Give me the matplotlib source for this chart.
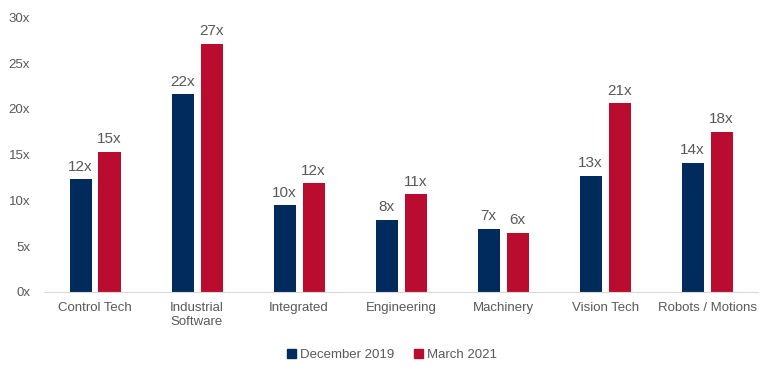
import numpy as np
import matplotlib

matplotlib.use("Agg")
from matplotlib import pyplot as plt
from matplotlib.patches import Patch

plt.rcParams["font.family"] = ["Liberation Sans", "DejaVu Sans"]

CATEGORIES = ["Control Tech", "Industrial\nSoftware", "Integrated", "Engineering",
              "Machinery", "Vision Tech", "Robots / Motions"]
DEC_2019 = [12.3, 21.6, 9.5, 7.9, 6.9, 12.7, 14.1]
MAR_2021 = [15.3, 27.1, 11.9, 10.7, 6.45, 20.6, 17.5]
LABELS_DEC = ["12x", "22x", "10x", "8x", "7x", "13x", "14x"]
LABELS_MAR = ["15x", "27x", "12x", "11x", "6x", "21x", "18x"]
SERIES_NAMES = ["December 2019", "March 2021"]
Y_TICKS = [0, 5, 10, 15, 20, 25, 30]

NAVY = "#002B5C"
RED = "#BA0C2F"
TEXT = "#595959"

fig = plt.figure(figsize=(7.76, 3.80), dpi=100)
ax = fig.add_axes([0.0567, 0.2316, 0.9203, 0.7224])

x = np.arange(len(CATEGORIES))
width = 0.216
offset = 0.142

bars_dec = ax.bar(x - offset, DEC_2019, width, color=NAVY)
bars_mar = ax.bar(x + offset, MAR_2021, width, color=RED)

for bars, values, labels in ((bars_dec, DEC_2019, LABELS_DEC),
                             (bars_mar, MAR_2021, LABELS_MAR)):
    for bar, v, lab in zip(bars, values, labels):
        ax.annotate(lab, (bar.get_x() + bar.get_width() / 2, v),
                    xytext=(0, 4), textcoords="offset points",
                    ha="center", va="bottom", fontsize=11, color=TEXT)

ax.set_xlim(-0.5, len(CATEGORIES) - 0.5)
ax.set_ylim(0, 30)
ax.set_yticks(Y_TICKS)
ax.set_yticklabels([f"{t}x" for t in Y_TICKS])
ax.set_xticks(x)
ax.set_xticklabels(CATEGORIES)
ax.tick_params(axis="both", length=0, labelsize=9.5, colors=TEXT)
ax.tick_params(axis="x", pad=7)
ax.tick_params(axis="y", pad=10)

for side in ("top", "right", "left"):
    ax.spines[side].set_visible(False)
ax.spines["bottom"].set_color("#D9D9D9")

handles = [Patch(color=NAVY), Patch(color=RED)]
fig.legend(handles, SERIES_NAMES, loc="center", bbox_to_anchor=(0.505, 1 - 355 / 380),
           ncol=2, frameon=False, fontsize=9.5, labelcolor=TEXT,
           handlelength=0.7, handleheight=0.7, handletextpad=0.3, columnspacing=1.5)

fig.savefig("out.png", dpi=100)
